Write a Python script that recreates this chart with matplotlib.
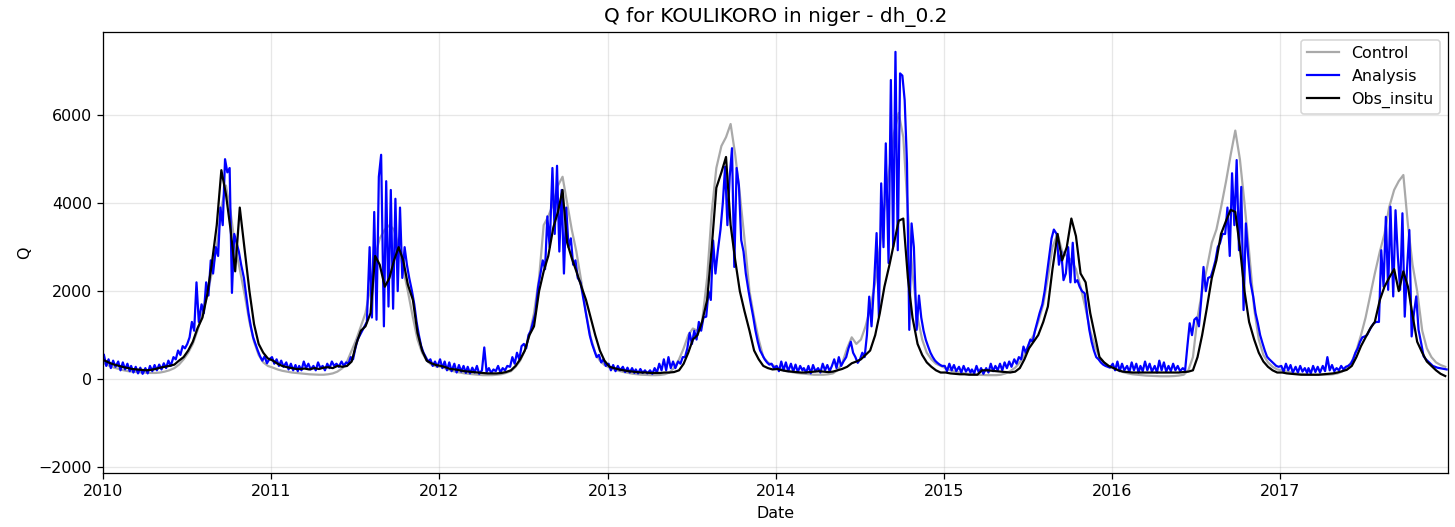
import matplotlib
matplotlib.use("Agg")
import matplotlib.pyplot as plt
import matplotlib.dates as mdates
import pandas as pd

years = list(range(2010, 2018))
dekad_days = [5, 15, 25]             # Control and Obs_insitu: three values per month
pentad_days = [3, 8, 13, 18, 23, 28]  # Analysis: six values per month

# Control run discharge (m3/s), one row per half year, Jan..Dec dekads
control_q = [
    350, 300, 260, 230, 200, 180, 170, 160, 150, 145, 140, 140, 150, 170, 200, 250, 330, 450,
    600, 800, 1100, 1500, 1900, 2400, 3000, 3900, 4400, 3800, 3000, 2500, 1900, 1300, 850, 550, 380, 300,
    260, 220, 190, 170, 150, 140, 130, 120, 110, 105, 100, 100, 110, 130, 170, 250, 400, 650,
    900, 1200, 1500, 2100, 2800, 3200, 3400, 3500, 3400, 3000, 2500, 2000, 1400, 900, 600, 420, 330, 290,
    280, 240, 200, 170, 150, 130, 120, 110, 100, 90, 90, 90, 100, 110, 140, 180, 280, 420,
    650, 1000, 1500, 2300, 3500, 3700, 4000, 4400, 4600, 4000, 3400, 2900, 2200, 1500, 950, 600, 420, 320,
    260, 220, 190, 160, 140, 120, 110, 100, 95, 90, 90, 95, 110, 150, 250, 450, 700, 1000,
    1150, 1100, 1300, 2300, 3800, 4800, 5300, 5500, 5800, 5100, 4200, 3200, 2000, 1400, 900, 500, 380, 320,
    260, 220, 190, 160, 140, 130, 120, 110, 100, 100, 100, 110, 130, 200, 350, 700, 950, 800,
    900, 1200, 1600, 2200, 3000, 3900, 4800, 5600, 6050, 5500, 3800, 2400, 1400, 900, 600, 450, 350, 300,
    250, 200, 170, 150, 130, 120, 110, 100, 95, 90, 90, 90, 100, 130, 180, 260, 380, 550,
    800, 1000, 1300, 1700, 2300, 3000, 3300, 2900, 2800, 2700, 2500, 2100, 1600, 1100, 750, 500, 380, 300,
    250, 200, 160, 130, 110, 100, 90, 80, 75, 70, 65, 65, 65, 70, 80, 100, 200, 500,
    1400, 2000, 2500, 3100, 3400, 3900, 4500, 5100, 5650, 5000, 4000, 2900, 1600, 900, 550, 380, 280, 220,
    200, 170, 150, 130, 120, 110, 100, 100, 100, 100, 100, 110, 130, 170, 250, 400, 650, 1000,
    1400, 1900, 2400, 2900, 3300, 3900, 4300, 4500, 4640, 3500, 2600, 2000, 1100, 700, 500, 380, 320, 280,
]

# In-situ observed discharge at Koulikoro, Jan..Dec dekads
obs_q = [
    420, 370, 330, 300, 270, 250, 230, 220, 210, 200, 210, 230, 260, 280, 300, 330, 420, 500,
    650, 850, 1150, 1400, 1900, 2600, 3500, 4750, 4200, 3400, 2450, 3900, 2900, 2000, 1250, 800, 600, 470,
    420, 350, 300, 270, 250, 230, 230, 240, 220, 250, 230, 260, 270, 250, 300, 280, 300, 400,
    800, 1100, 1200, 1500, 2800, 2600, 2100, 2300, 2700, 3000, 2700, 2150, 1800, 1050, 650, 420, 360, 320,
    300, 270, 230, 220, 200, 180, 170, 160, 150, 140, 130, 130, 130, 140, 160, 200, 300, 450,
    650, 1000, 1200, 2000, 2450, 2800, 3450, 3800, 4300, 3100, 2750, 2450, 2100, 1800, 1400, 1000, 650, 420,
    280, 250, 220, 200, 180, 170, 160, 150, 150, 140, 140, 140, 150, 150, 160, 200, 350, 600,
    900, 1000, 1300, 1800, 3000, 4350, 4700, 5050, 3500, 2700, 2000, 1550, 1100, 650, 450, 300, 250, 220,
    230, 200, 180, 170, 160, 150, 150, 160, 170, 180, 170, 160, 170, 200, 230, 280, 360, 400,
    450, 550, 650, 1000, 1500, 2100, 2600, 3100, 3600, 3650, 2300, 1400, 800, 550, 380, 280, 200, 150,
    150, 130, 120, 110, 110, 100, 100, 100, 200, 200, 190, 180, 170, 160, 150, 170, 250, 450,
    700, 850, 1000, 1300, 1650, 2500, 3300, 2700, 3000, 3650, 3250, 2400, 2200, 1500, 1000, 500, 380, 300,
    250, 200, 170, 160, 150, 150, 150, 150, 150, 150, 150, 150, 150, 150, 150, 160, 170, 200,
    500, 1000, 1600, 2300, 2700, 3300, 3600, 3850, 3800, 3000, 2000, 1300, 900, 600, 400, 280, 200, 150,
    150, 130, 120, 110, 100, 100, 100, 100, 100, 110, 120, 130, 150, 180, 210, 300, 500, 750,
    950, 1150, 1300, 1800, 2100, 2300, 2500, 2000, 2450, 2100, 1450, 850, 600, 400, 300, 200, 120, 70,
]

# Analysis (assimilated) discharge, Jan..Dec, six values per month
analysis_2010 = [
    550, 300, 450, 250, 420, 280, 400, 200, 380, 220, 350, 180, 300, 150, 280, 130, 260, 120,
    250, 130, 300, 180, 320, 200, 330, 220, 360, 250, 420, 300, 500, 450, 650, 550, 750, 700,
    800, 950, 1300, 1100, 2200, 1300, 1700, 1500, 2200, 1900, 2700, 2400, 3000, 2800, 3900, 3500, 5000, 4700,
    4800, 1960, 3300, 3100, 2900, 2600, 2300, 1900, 1500, 1200, 950, 800, 650, 520, 420, 520, 360, 450,
]
analysis_2011 = [
    500, 350, 450, 300, 420, 280, 380, 220, 350, 200, 320, 180, 300, 200, 400, 250, 350, 220,
    300, 200, 380, 250, 300, 200, 350, 250, 400, 300, 350, 280, 400, 300, 380, 350, 500, 450,
    700, 900, 1000, 1100, 1200, 1300, 3000, 1400, 3800, 1350, 4600, 5100, 1200, 4500, 1650, 4300, 1600, 4100,
    2000, 3900, 2300, 3000, 2600, 2300, 2000, 1700, 1300, 1000, 750, 600, 500, 400, 450, 300, 400, 280,
]
analysis_2012 = [
    450, 250, 400, 200, 380, 180, 350, 150, 320, 170, 300, 140, 280, 130, 260, 150, 300, 120,
    200, 720, 160, 250, 140, 220, 180, 300, 150, 250, 200, 300, 280, 500, 350, 600, 450, 750,
    800, 700, 1000, 1100, 1300, 1500, 2100, 2400, 2700, 2500, 3700, 3000, 4800, 3300, 4850, 2900, 4300, 2400,
    3900, 3000, 3200, 2600, 2700, 2300, 2200, 1900, 1600, 1300, 1000, 800, 650, 500, 550, 380, 450, 300,
]
analysis_2013 = [
    350, 200, 320, 180, 300, 200, 280, 160, 260, 150, 250, 140, 220, 130, 230, 140, 200, 130,
    200, 120, 250, 150, 350, 200, 450, 200, 500, 250, 400, 250, 400, 350, 500, 500, 700, 1050,
    800, 1100, 900, 1300, 1100, 1400, 1420, 2000, 1800, 3150, 2400, 2900, 3400, 4000, 4830, 3500, 4600, 5250,
    2550, 4800, 4400, 3160, 2900, 2400, 2000, 1700, 1420, 1100, 850, 650, 550, 450, 380, 330, 350, 250,
]
analysis_2014 = [
    300, 180, 400, 200, 380, 180, 350, 170, 330, 160, 300, 200, 250, 150, 300, 130, 320, 180,
    250, 150, 350, 200, 320, 180, 300, 450, 250, 500, 300, 400, 500, 700, 850, 600, 500, 370,
    450, 600, 500, 1000, 1875, 1200, 2250, 3320, 1420, 4450, 3000, 5360, 2640, 6800, 3010, 7440, 2930, 6950,
    6900, 6340, 4910, 1120, 3540, 3000, 1120, 1900, 1400, 1100, 890, 740, 600, 500, 420, 370, 330, 300,
]
analysis_2015 = [
    300, 180, 350, 200, 320, 180, 280, 150, 300, 170, 250, 150, 220, 130, 300, 150, 250, 120,
    250, 150, 350, 180, 300, 200, 350, 200, 380, 250, 400, 280, 450, 350, 500, 450, 740, 600,
    750, 900, 850, 1100, 1300, 1500, 1700, 2000, 2400, 2800, 3200, 3400, 3300, 2600, 2900, 2250, 2400, 3000,
    2200, 3100, 2200, 2250, 2100, 2000, 1950, 1500, 1120, 850, 650, 500, 450, 380, 330, 300, 280, 260,
]
analysis_2016 = [
    350, 200, 400, 180, 350, 200, 300, 160, 380, 200, 350, 150, 300, 180, 400, 200, 350, 170,
    300, 150, 420, 200, 380, 170, 300, 180, 350, 200, 300, 180, 250, 200, 750, 1270, 1000, 1350,
    1400, 1200, 1800, 2550, 2000, 2300, 2330, 2500, 2700, 3000, 3100, 3300, 3300, 3900, 2800, 4680, 3500, 4980,
    2930, 4370, 1570, 3540, 2800, 2200, 1870, 1500, 1270, 1000, 820, 650, 510, 450, 400, 350, 300, 280,
]
analysis_2017 = [
    300, 170, 350, 200, 320, 150, 280, 150, 300, 170, 250, 140, 250, 130, 300, 160, 280, 150,
    300, 180, 500, 200, 320, 180, 250, 200, 300, 220, 280, 300, 350, 450, 600, 700, 850, 950,
    970, 1000, 1100, 1200, 1270, 1300, 1300, 2930, 2100, 3690, 2030, 3920, 1880, 3840, 2800, 2030, 3770, 1420,
    2500, 3390, 970, 1500, 1880, 1120, 800, 520, 450, 400, 350, 300, 280, 260, 250, 240, 230, 220,
]
analysis_q = (analysis_2010 + analysis_2011 + analysis_2012 + analysis_2013
              + analysis_2014 + analysis_2015 + analysis_2016 + analysis_2017)

dekad_dates = pd.to_datetime([f"{y}-{m:02d}-{d:02d}" for y in years
                              for m in range(1, 13) for d in dekad_days])
pentad_dates = pd.to_datetime([f"{y}-{m:02d}-{d:02d}" for y in years
                               for m in range(1, 13) for d in pentad_days])

DPI = 114
fig, ax = plt.subplots(figsize=(1455 / DPI, 527 / DPI), dpi=DPI)
fig.subplots_adjust(left=0.0708, right=0.9952, bottom=0.102, top=0.94)

ax.plot(dekad_dates, control_q, color="darkgray", lw=1.4, label="Control")
ax.plot(pentad_dates, analysis_q, color="blue", lw=1.4, label="Analysis")
ax.plot(dekad_dates, obs_q, color="black", lw=1.4, label="Obs_insitu")

ax.set_xlim(pd.Timestamp("2010-01-01"), pd.Timestamp("2017-12-31"))
ax.set_ylim(-2140, 7900)
ax.xaxis.set_major_locator(mdates.YearLocator())
ax.xaxis.set_major_formatter(mdates.DateFormatter("%Y"))
ax.grid(True, alpha=0.3)

ax.set_title("Q for KOULIKORO in niger - dh_0.2", fontsize=12.6)
ax.set_xlabel("Date")
ax.set_ylabel("Q")
ax.legend(loc="upper right")

fig.savefig("out.png", dpi=DPI)
